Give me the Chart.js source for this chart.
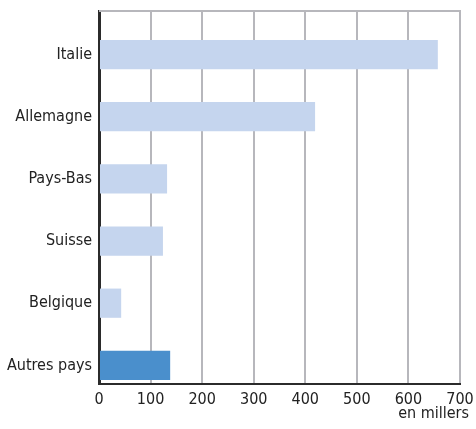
<!DOCTYPE html>
<html>
<head>
<meta charset="utf-8">
<script src="https://cdn.jsdelivr.net/npm/chart.js@4"></script>
<style>
  html, body { margin: 0; padding: 0; background: #fff; }
  #wrap { width: 476px; height: 429px; }
</style>
</head>
<body>
<div id="wrap"><canvas id="chart-pays"></canvas></div>
<script>
const pays = ['Italie', 'Allemagne', 'Pays-Bas', 'Suisse', 'Belgique', 'Autres pays'];
const valeurs = [657, 419, 132, 124, 43, 138];
const couleurs = ['#c5d5ee', '#c5d5ee', '#c5d5ee', '#c5d5ee', '#c5d5ee', '#4a8fcc'];
const xTicks = [0, 100, 200, 300, 400, 500, 600, 700];
const unite = 'en millers';

const FONT = { family: "'DejaVu Sans Condensed', sans-serif", size: 16 };
const GRID = '#b7b7bc';
const AXIS = '#2b2b2b';
const TEXT = '#222';

// top border of the frame + unit label under the axis
const cadre = {
  id: 'cadre',
  afterDraw(chart) {
    const { ctx, chartArea: a } = chart;
    ctx.save();
    ctx.strokeStyle = GRID;
    ctx.lineWidth = 2;
    ctx.beginPath();
    ctx.moveTo(a.left, a.top);
    ctx.lineTo(a.right + 1, a.top);
    ctx.stroke();
    ctx.fillStyle = TEXT;
    ctx.font = `${FONT.size}px ${FONT.family}`;
    ctx.textAlign = 'right';
    ctx.textBaseline = 'middle';
    ctx.fillText(unite, a.right + 9, a.bottom + 30);
    ctx.restore();
  }
};

new Chart(document.getElementById('chart-pays'), {
  type: 'bar',
  data: {
    datasets: [{
      data: valeurs.map((v, i) => ({ x: v, y: i })),
      backgroundColor: couleurs,
      borderWidth: 0,
      barPercentage: 0.47,
      categoryPercentage: 1
    }]
  },
  options: {
    indexAxis: 'y',
    responsive: true,
    maintainAspectRatio: false,
    animation: false,
    layout: { padding: { top: 11, right: 16, left: 0, bottom: 0 } },
    plugins: { legend: { display: false }, tooltip: { enabled: false } },
    scales: {
      x: {
        type: 'linear',
        min: 0, max: 700,
        afterBuildTicks: s => { s.ticks = xTicks.map(v => ({ value: v })); },
        afterFit: s => { s.height = 45; s.paddingLeft = 0; s.paddingRight = 0; },
        grid: { color: GRID, lineWidth: 2, drawTicks: false },
        border: { color: AXIS, width: 2 },
        ticks: { color: TEXT, font: FONT, padding: 6 }
      },
      y: {
        type: 'linear',
        reverse: true,
        offset: false,
        min: -0.7, max: 5.3,
        afterBuildTicks: s => { s.ticks = pays.map((p, i) => ({ value: i })); },
        afterFit: s => { s.width = 99; s.paddingTop = 0; s.paddingBottom = 0; },
        grid: { display: false, drawTicks: false, offset: false },
        border: { color: AXIS, width: 3 },
        ticks: { color: TEXT, font: FONT, padding: 7, callback: v => pays[v] }
      }
    }
  },
  plugins: [cadre]
});
</script>
</body>
</html>
